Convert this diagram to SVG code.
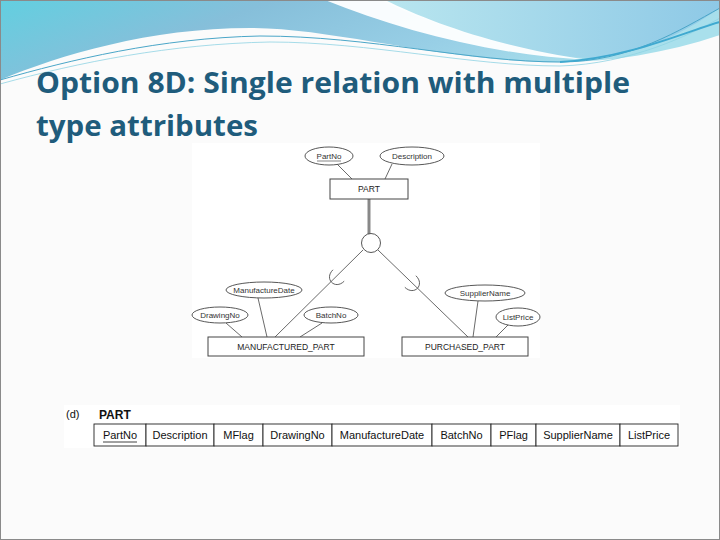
<svg xmlns="http://www.w3.org/2000/svg" width="720" height="540" viewBox="0 0 720 540">
<defs>
<linearGradient id="gBlue" x1="0" y1="0" x2="1" y2="0.3">
<stop offset="0" stop-color="#62cfe0"/>
<stop offset="0.35" stop-color="#86bfda"/>
<stop offset="0.7" stop-color="#98cfe6"/>
<stop offset="1" stop-color="#a9e0ec"/>
</linearGradient>
<linearGradient id="gLight" x1="0" y1="0" x2="1" y2="0">
<stop offset="0" stop-color="#b9e6ef"/>
<stop offset="1" stop-color="#8ec9e6"/>
</linearGradient>
<style>
.title{font-family:"Open Sans",Lato,"Liberation Sans",sans-serif;font-weight:bold;font-size:28px;fill:#1f5c7c}
.box{fill:#fff;stroke:#444;stroke-width:1}
.ell{fill:#fff;stroke:#444;stroke-width:0.9}
.ln{stroke:#444;stroke-width:0.8;fill:none}
.lbl{font-family:"Liberation Sans",Arial,sans-serif;font-size:8px;fill:#333;text-anchor:middle}
.blbl{font-family:"Liberation Sans",Arial,sans-serif;font-size:8.5px;fill:#222;text-anchor:middle}
.cell{fill:#fff;stroke:#222;stroke-width:0.9}
.ct{font-family:"Liberation Sans",Arial,sans-serif;font-size:11px;fill:#111;text-anchor:middle}
</style>
</defs>
<rect x="0" y="0" width="720" height="540" fill="#fbfbfb"/>
<!-- top decoration -->
<path d="M0,0 H720 V35 C 660,55 600,64 540,62 C 430,58 330,28 250,28 C 150,28 60,55 0,80 Z" fill="url(#gBlue)"/>
<path d="M380,0 H720 V8 C 680,35 640,55 590,58 C 520,55 440,28 380,0 Z" fill="url(#gLight)"/>
<path d="M325,0 C 400,30 490,55 590,60 C 500,48 430,22 385,0 Z" fill="#ffffff" opacity="0.95"/>
<path d="M0,80 C 70,60 160,38 260,36 C 370,36 470,62 560,62 C 630,62 680,30 720,8" fill="none" stroke="#4aa6c8" stroke-width="1"/>
<path d="M0,84 C 80,62 170,44 270,42 C 370,42 470,66 560,66 C 630,64 690,35 720,18" fill="none" stroke="#8fd3e3" stroke-width="0.8"/>
<path d="M560,62 C 630,58 690,30 720,22" fill="none" stroke="#3fa9d0" stroke-width="2"/>
<rect x="0.5" y="0.5" width="719" height="539" fill="none" stroke="#8a8a8a" stroke-width="1"/>
<text class="title" x="36" y="93" textLength="594" lengthAdjust="spacingAndGlyphs">Option 8D: Single relation with multiple</text>
<text class="title" x="36" y="136" textLength="222" lengthAdjust="spacingAndGlyphs">type attributes</text>
<!-- ER figure background -->
<rect x="192" y="143" width="348" height="215" fill="#fff"/>
<g id="connectors">
<line class="ln" x1="337" y1="164" x2="352" y2="179"/>
<line class="ln" x1="392" y1="164" x2="385" y2="179"/>
<line x1="369" y1="199" x2="369" y2="234" stroke="#888" stroke-width="3"/>
<line class="ln" x1="363" y1="250" x2="275" y2="337"/>
<line class="ln" x1="378" y1="250" x2="468" y2="337"/>
<path class="ln" d="M-5,-8 C 8,-8 8,8 -5,8" transform="translate(335,279) rotate(135.6)"/>
<path class="ln" d="M-5,-8 C 8,-8 8,8 -5,8" transform="translate(414,285) rotate(43.7)"/>
<line class="ln" x1="226" y1="323" x2="242" y2="337"/>
<line class="ln" x1="258" y1="298" x2="267" y2="337"/>
<line class="ln" x1="322" y1="323" x2="300" y2="337"/>
<line class="ln" x1="478" y1="301" x2="473" y2="337"/>
<line class="ln" x1="508" y1="325" x2="496" y2="337"/>
</g>
<g id="PartNo"><ellipse class="ell" cx="329" cy="156" rx="24" ry="9"/><text class="lbl" x="329" y="159">PartNo</text><line x1="317" y1="161" x2="341" y2="161" stroke="#333" stroke-width="0.6"/></g>
<g id="Description"><ellipse class="ell" cx="412" cy="156" rx="32" ry="9"/><text class="lbl" x="412" y="159">Description</text></g>
<g id="PART"><rect class="box" x="330" y="179" width="78" height="20"/><text class="blbl" x="369" y="192">PART</text></g>
<g id="d-circle"><circle cx="371" cy="243" r="9.5" fill="#fff" stroke="#444" stroke-width="0.9"/></g>
<g id="ManufactureDate"><ellipse class="ell" cx="264" cy="290" rx="38" ry="8"/><text class="lbl" x="264" y="293">ManufactureDate</text></g>
<g id="DrawingNo"><ellipse class="ell" cx="220" cy="315" rx="28" ry="8"/><text class="lbl" x="220" y="318">DrawingNo</text></g>
<g id="BatchNo"><ellipse class="ell" cx="331" cy="315" rx="27" ry="8"/><text class="lbl" x="331" y="318">BatchNo</text></g>
<g id="SupplierName"><ellipse class="ell" cx="485" cy="293" rx="40" ry="8"/><text class="lbl" x="485" y="296">SupplierName</text></g>
<g id="ListPrice"><ellipse class="ell" cx="518" cy="317" rx="22" ry="9"/><text class="lbl" x="518" y="320">ListPrice</text></g>
<g id="MANUFACTURED_PART"><rect class="box" x="208" y="337" width="156" height="19"/><text class="blbl" x="286" y="350">MANUFACTURED_PART</text></g>
<g id="PURCHASED_PART"><rect class="box" x="402" y="337" width="126" height="19"/><text class="blbl" x="465" y="350">PURCHASED_PART</text></g>
<!-- relation table -->
<rect x="64" y="405" width="616" height="43" fill="#fff"/>
<g id="relation">
<text x="66" y="418" font-family="Liberation Sans, Arial, sans-serif" font-size="11" fill="#111">(d)</text>
<text x="99" y="419" font-family="Liberation Sans, Arial, sans-serif" font-size="12" fill="#111" font-weight="bold">PART</text>
<rect class="cell" x="94" y="424" width="52" height="22"/>
<rect class="cell" x="146" y="424" width="68" height="22"/>
<rect class="cell" x="214" y="424" width="49" height="22"/>
<rect class="cell" x="263" y="424" width="69" height="22"/>
<rect class="cell" x="332" y="424" width="100" height="22"/>
<rect class="cell" x="432" y="424" width="59" height="22"/>
<rect class="cell" x="491" y="424" width="45" height="22"/>
<rect class="cell" x="536" y="424" width="84" height="22"/>
<rect class="cell" x="620" y="424" width="58" height="22"/>
<text class="ct" x="120" y="439">PartNo</text>
<line x1="103" y1="442" x2="137" y2="442" stroke="#111" stroke-width="0.8"/>
<text class="ct" x="180" y="439">Description</text>
<text class="ct" x="238.5" y="439">MFlag</text>
<text class="ct" x="297.5" y="439">DrawingNo</text>
<text class="ct" x="382" y="439">ManufactureDate</text>
<text class="ct" x="461.5" y="439">BatchNo</text>
<text class="ct" x="513.5" y="439">PFlag</text>
<text class="ct" x="578" y="439">SupplierName</text>
<text class="ct" x="649" y="439">ListPrice</text>
</g>
</svg>
